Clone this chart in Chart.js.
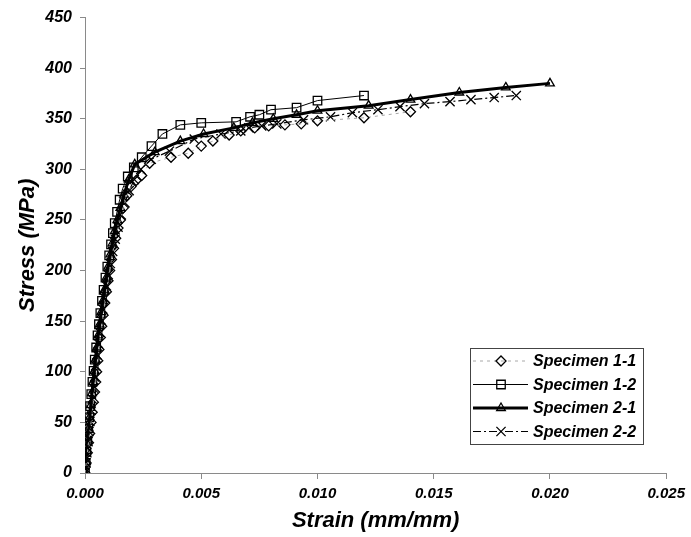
<!DOCTYPE html>
<html>
<head>
<meta charset="utf-8">
<script src="https://cdn.jsdelivr.net/npm/chart.js@4.4.0/dist/chart.umd.min.js"></script>
<style>
  html, body { margin: 0; padding: 0; background: #fff; }
  canvas { display: block; }
</style>
</head>
<body>
<canvas id="stressStrain" width="691" height="537"></canvas>
<script>
// strain (mm/mm) and stress (MPa)
var strain11 = [0, 0.00005, 0.0001, 0.00015, 0.0002, 0.00026, 0.00031, 0.00036, 0.00041, 0.00046, 0.0005, 0.00055, 0.0006, 0.00066, 0.00072, 0.00078, 0.00085, 0.00092, 0.00099, 0.00106, 0.00114, 0.00123, 0.00132, 0.00142, 0.00152, 0.00165, 0.0018, 0.00198, 0.0022, 0.00244, 0.00278, 0.0037, 0.00444, 0.005, 0.0055, 0.0062, 0.0067, 0.0073, 0.0079, 0.0086, 0.0093, 0.01, 0.012, 0.014];
var stress11 = [0, 10, 20, 30, 39, 50, 60, 70, 80, 90, 100, 111, 122, 134, 145, 156, 168, 179, 190, 200, 211, 222, 232, 242, 250, 262, 274, 283, 289, 294, 306, 312, 316, 323, 328, 334, 338, 341, 343, 344, 345, 348, 351, 357];

var strain12 = [0, 0.00003, 0.00006, 0.0001, 0.00014, 0.00018, 0.00022, 0.00027, 0.00032, 0.00037, 0.00042, 0.00048, 0.00054, 0.0006, 0.00066, 0.00073, 0.0008, 0.00088, 0.00096, 0.00104, 0.00112, 0.0012, 0.00128, 0.00138, 0.00149, 0.00162, 0.00184, 0.0021, 0.00244, 0.00286, 0.00333, 0.0041, 0.005, 0.0065, 0.0071, 0.0075, 0.008, 0.0091, 0.01, 0.012];
var stress12 = [0, 10, 21, 32, 44, 55, 66, 78, 90, 101, 112, 124, 136, 147, 158, 170, 181, 193, 204, 215, 226, 237, 247, 258, 270, 281, 293, 302, 312, 323, 335, 344, 346, 347, 352, 354, 359, 361, 368, 373];

var strain21 = [0, 0.00004, 0.00008, 0.00012, 0.00016, 0.0002, 0.00025, 0.0003, 0.00035, 0.0004, 0.00045, 0.00051, 0.00057, 0.00063, 0.0007, 0.00077, 0.00084, 0.00092, 0.001, 0.00109, 0.00118, 0.00128, 0.00139, 0.00152, 0.00168, 0.00188, 0.00214, 0.003, 0.0041, 0.0051, 0.0064, 0.0072, 0.0081, 0.0091, 0.01, 0.0122, 0.014, 0.0161, 0.0181, 0.02];
var stress21 = [0, 11, 22, 33, 44, 55, 67, 79, 90, 101, 112, 124, 136, 147, 159, 170, 181, 193, 204, 216, 227, 239, 250, 262, 275, 290, 305, 317, 328, 335, 341, 346, 350, 354, 358, 363, 369, 376, 381, 385];

var strain22 = [0, 0.00004, 0.00008, 0.00013, 0.00017, 0.00021, 0.00026, 0.00031, 0.00036, 0.00041, 0.00046, 0.00051, 0.00057, 0.00063, 0.0007, 0.00077, 0.00084, 0.00092, 0.001, 0.00109, 0.00119, 0.0013, 0.00142, 0.00156, 0.00172, 0.0019, 0.00212, 0.0024, 0.00285, 0.00363, 0.0047, 0.00585, 0.0067, 0.00705, 0.0076, 0.00825, 0.0094, 0.01056, 0.0115, 0.0126, 0.01355, 0.0146, 0.0157, 0.0166, 0.0176, 0.01855];
var stress22 = [0, 10, 20, 31, 41, 51, 62, 73, 84, 95, 106, 117, 128, 139, 151, 162, 173, 185, 196, 207, 219, 231, 243, 255, 267, 279, 290, 300, 310, 318, 330, 335, 338, 341, 343, 345, 349, 352, 356, 359, 362, 365, 367, 369, 371, 373];

var xTicks = [0, 0.005, 0.01, 0.015, 0.02, 0.025];
var yTicks = [0, 50, 100, 150, 200, 250, 300, 350, 400, 450];

function pairs(xs, ys) {
    return xs.map(function(x, i) { return {x: x, y: ys[i]}; });
}

var FAMILY = "'Liberation Sans', Arial, Helvetica, sans-serif";
var AXIS_GREY = '#8a8a8a';

var datasets = [{
    label: 'Specimen 1-1',
    data: pairs(strain11, stress11),
    borderColor: '#a8a8a8',
    borderWidth: 1,
    borderDash: [3, 4],
    pointStyle: 'rectRot',
    pointRadius: 5,
    pointBorderWidth: 1.3,
    pointBorderColor: '#000',
    pointBackgroundColor: 'rgba(0,0,0,0)'
}, {
    label: 'Specimen 1-2',
    data: pairs(strain12, stress12),
    borderColor: '#000',
    borderWidth: 1,
    pointStyle: 'rect',
    pointRadius: 6,
    pointBorderWidth: 1.3,
    pointBorderColor: '#000',
    pointBackgroundColor: 'rgba(0,0,0,0)'
}, {
    label: 'Specimen 2-1',
    data: pairs(strain21, stress21),
    borderColor: '#000',
    borderWidth: 3,
    pointStyle: 'triangle',
    pointRadius: 5,
    pointBorderWidth: 1.3,
    pointBorderColor: '#000',
    pointBackgroundColor: 'rgba(0,0,0,0)'
}, {
    label: 'Specimen 2-2',
    data: pairs(strain22, stress22),
    borderColor: '#000',
    borderWidth: 1.2,
    borderDash: [8, 3, 2, 3],
    pointStyle: 'crossRot',
    pointRadius: 6.5,
    pointBorderWidth: 1.3,
    pointBorderColor: '#000',
    pointBackgroundColor: 'rgba(0,0,0,0)'
}];

// boxed legend inside the plot, line sample with marker in the middle
var boxLegend = {
    id: 'boxLegend',
    afterDraw: function(chart) {
        var ctx = chart.ctx;
        ctx.save();
        ctx.strokeStyle = '#444';
        ctx.lineWidth = 1;
        ctx.setLineDash([]);
        ctx.strokeRect(470.5, 348.5, 173, 96);
        chart.data.datasets.forEach(function(ds, i) {
            var y = 361 + i * 23.5;
            ctx.beginPath();
            ctx.setLineDash(ds.borderDash || []);
            ctx.lineWidth = ds.borderWidth;
            ctx.strokeStyle = ds.borderColor;
            ctx.moveTo(473, y);
            ctx.lineTo(528, y);
            ctx.stroke();
            ctx.setLineDash([]);
            ctx.strokeStyle = '#000';
            ctx.fillStyle = 'rgba(0,0,0,0)';
            ctx.lineWidth = ds.pointBorderWidth;
            Chart.helpers.drawPoint(ctx, {pointStyle: ds.pointStyle, radius: ds.pointRadius, borderWidth: ds.pointBorderWidth, rotation: 0}, 501, y);
            ctx.fillStyle = '#000';
            ctx.font = 'italic bold 16px ' + FAMILY;
            ctx.textBaseline = 'middle';
            ctx.textAlign = 'left';
            ctx.fillText(ds.label, 533, y + 1);
        });
        ctx.restore();
    }
};

var xTickFont = {family: FAMILY, size: 15, weight: 'bold', style: 'italic'};
var yTickFont = {family: FAMILY, size: 16, weight: 'bold', style: 'italic'};
var titleFont = {family: FAMILY, size: 22, weight: 'bold', style: 'italic'};

window.onload = function() {
    var ctx = document.getElementById('stressStrain').getContext('2d');
    window.myChart = new Chart(ctx, {
        type: 'scatter',
        data: {datasets: datasets},
        options: {
            responsive: false,
            animation: false,
            devicePixelRatio: 1,
            showLine: true,
            layout: {padding: {top: 12, right: 21, left: 0, bottom: 0}},
            elements: {line: {tension: 0, fill: false}},
            plugins: {
                legend: {display: false},
                tooltip: {enabled: false}
            },
            scales: {
                x: {
                    type: 'linear',
                    min: 0,
                    max: 0.025,
                    afterBuildTicks: function(scale) {
                        scale.ticks = xTicks.map(function(v) { return {value: v}; });
                    },
                    afterFit: function(scale) { scale.height = 64; },
                    ticks: {
                        color: '#000',
                        font: xTickFont,
                        padding: 6,
                        maxRotation: 0,
                        callback: function(v) { return Number(v).toFixed(3); }
                    },
                    grid: {drawOnChartArea: false, drawTicks: true, tickLength: 6, color: AXIS_GREY},
                    border: {color: AXIS_GREY, width: 1},
                    title: {display: true, text: 'Strain (mm/mm)', color: '#000', font: titleFont, padding: {top: 0, bottom: 3}}
                },
                y: {
                    type: 'linear',
                    min: 0,
                    max: 450,
                    afterBuildTicks: function(scale) {
                        scale.ticks = yTicks.map(function(v) { return {value: v}; });
                    },
                    afterFit: function(scale) { scale.width = 85; },
                    ticks: {
                        color: '#000',
                        font: yTickFont,
                        padding: 8,
                        callback: function(v) { return String(v); }
                    },
                    grid: {drawOnChartArea: false, drawTicks: true, tickLength: 5, color: AXIS_GREY},
                    border: {color: AXIS_GREY, width: 1},
                    title: {display: true, text: 'Stress (MPa)', color: '#000', font: titleFont, padding: {top: 15, bottom: 0}}
                }
            }
        },
        plugins: [boxLegend]
    });
};
</script>
</body>
</html>
